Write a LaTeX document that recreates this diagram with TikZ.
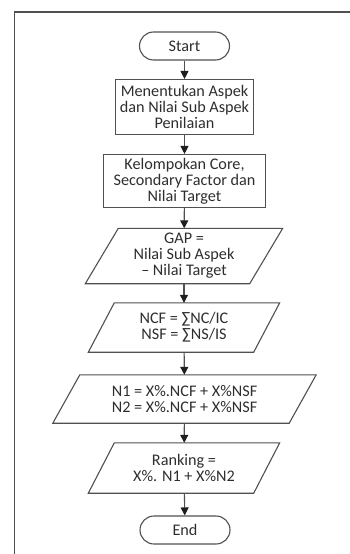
\documentclass[tikz,border=0pt]{standalone}
\usepackage{fontspec}
\setmainfont{Carlito}
\usetikzlibrary{arrows.meta,calc}
\definecolor{linegray}{HTML}{505050}
\definecolor{textgray}{HTML}{2E2E2E}
\definecolor{tipgray}{HTML}{1E1E1E}
\begin{document}
\begin{tikzpicture}[x=1pt,y=-1pt,
  txt/.style={font=\fontsize{16.2}{16}\selectfont, text=textgray, align=center, inner sep=0pt},
  term/.style={txt, draw=linegray, line width=1.1pt, rounded corners=14pt, minimum width=90pt, minimum height=28pt},
  procbox/.style={txt, draw=linegray, line width=1.1pt},
  para/.style={txt},
  paraline/.style={draw=linegray, line width=1.1pt, line join=miter},
  conn/.style={draw=linegray, line width=1.1pt, -{Triangle[width=8pt,length=8pt,color=tipgray]}}
]
\useasboundingbox (0,0) rectangle (350,554);
% frame
\coordinate (fbl) at (14.5,560);
\coordinate (ftl) at (14.5,12);
\coordinate (ftr) at (356,12);
\draw[linegray, line width=1.2pt] (fbl) -- (ftl) -- (ftr);

\node[term] (start) at (184.5,46) {Start};
\node[procbox, minimum width=138pt, minimum height=55pt] (b1) at (184.5,107)
  {Menentukan Aspek\\dan Nilai Sub Aspek\\Penilaian};
\node[procbox, minimum width=162pt, minimum height=53pt] (b2) at (184.5,181)
  {Kelompokan Core,\\Secondary Factor dan\\Nilai Target};

\node[para, minimum width=164pt, minimum height=55pt] (gap) at (184,256)
  {GAP =\\Nilai Sub Aspek\\– Nilai Target};
\node[para, minimum width=165pt, minimum height=49pt] (ncf) at (184,327.5)
  {NCF = ∑NC/IC\\NSF = ∑NS/IS};
\node[para, minimum width=236pt, minimum height=48pt] (n1) at (184.5,399)
  {N1 = X\%.NCF + X\%NSF\\N2 = X\%.NCF + X\%NSF};
\node[para, minimum width=165pt, minimum height=50pt] (rank) at (184,468)
  {Ranking =\\X\%. N1 + X\%N2};
\node[term] (end) at (185,530) {End};

% parallelogram outlines
\foreach \n/\s in {gap/16.5, ncf/13, n1/13.5, rank/13}{
  \draw[paraline] ($(\n.north west)+(\s,0)$) -- ($(\n.north east)+(\s,0)$)
    -- ($(\n.south east)+(-\s,0)$) -- ($(\n.south west)+(-\s,0)$) -- cycle;
}

\draw[conn] (start) -- (b1);
\draw[conn] (b1) -- (b2);
\draw[conn] (b2) -- (gap);
\draw[conn] (gap) -- (ncf);
\draw[conn] (ncf) -- (n1);
\draw[conn] (n1) -- (rank);
\draw[conn] (rank) -- (end);
\end{tikzpicture}
\end{document}
